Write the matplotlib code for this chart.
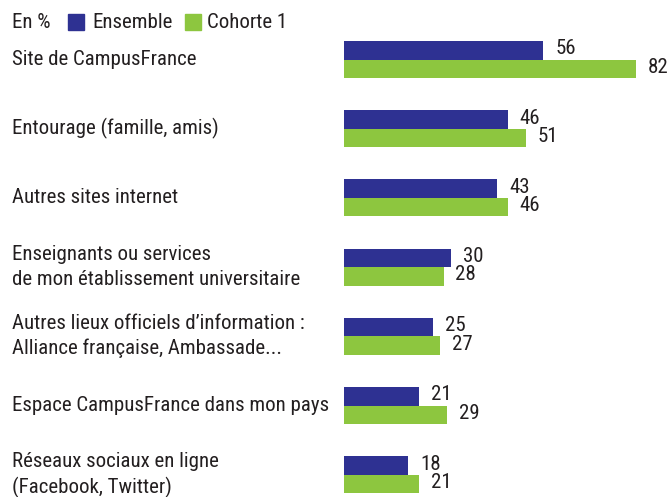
import matplotlib
matplotlib.use("Agg")
import matplotlib.pyplot as plt
import matplotlib.transforms as mtransforms
import numpy as np
from matplotlib.patches import Rectangle

plt.rcParams['font.family'] = ['Roboto Condensed', 'DejaVu Sans']

categories = [
    "Site de CampusFrance",
    "Entourage (famille, amis)",
    "Autres sites internet",
    "Enseignants ou services\nde mon établissement universitaire",
    "Autres lieux officiels d\u2019information :\nAlliance française, Ambassade...",
    "Espace CampusFrance dans mon pays",
    "Réseaux sociaux en ligne\n(Facebook, Twitter)",
]
ensemble = [56, 46, 43, 30, 25, 21, 18]
cohorte1 = [82, 51, 46, 28, 27, 29, 21]
series_names = ["Ensemble", "Cohorte 1"]
unit_label = "En %"

BLUE = "#2E3192"
GREEN = "#8DC63F"
TXT = "#231F20"

W, H = 670, 497
fig = plt.figure(figsize=(W/100, H/100), dpi=100)
left_px = 344
px_per_unit = 3.56
ax = fig.add_axes([left_px/W, 0, (W-left_px)/W, 1])
ax.set_xlim(0, (W-left_px)/px_per_unit)
spacing = 69.2
top_center = 59.5
ax.set_ylim((H-top_center)/spacing, -top_center/spacing)
ax.axis('off')

y = np.arange(len(categories))
h = 18.5/spacing
b1 = ax.barh(y - h/2, ensemble, height=h, color=BLUE)
b2 = ax.barh(y + h/2, cohorte1, height=h, color=GREEN)

fs = 15
for bars, vals in ((b1, ensemble), (b2, cohorte1)):
    for rect, v in zip(bars, vals):
        ax.annotate(str(v), (rect.get_width(), rect.get_y() + rect.get_height()/2),
                    xytext=(8.5, 1), textcoords='offset points',
                    ha='left', va='center', fontsize=fs, color=TXT)

trans = mtransforms.blended_transform_factory(fig.transFigure, ax.transData)
for yi, cat in zip(y, categories):
    ax.text(12/W, yi, cat, transform=trans, ha='left', va='center',
            fontsize=fs, color=TXT, linespacing=1.35)

# legend row
ly = 1 - 22/H
fig.text(12/W, ly, unit_label, ha='left', va='center', fontsize=fs, color=TXT)
fig.patches.append(Rectangle((68/W, 1-30/H), 16/W, 16/H, transform=fig.transFigure, color=BLUE))
fig.text(92/W, ly, series_names[0], ha='left', va='center', fontsize=fs, color=TXT)
fig.patches.append(Rectangle((185/W, 1-30/H), 16/W, 16/H, transform=fig.transFigure, color=GREEN))
fig.text(207/W, ly, series_names[1], ha='left', va='center', fontsize=fs, color=TXT)

fig.savefig("out.png", dpi=100)
